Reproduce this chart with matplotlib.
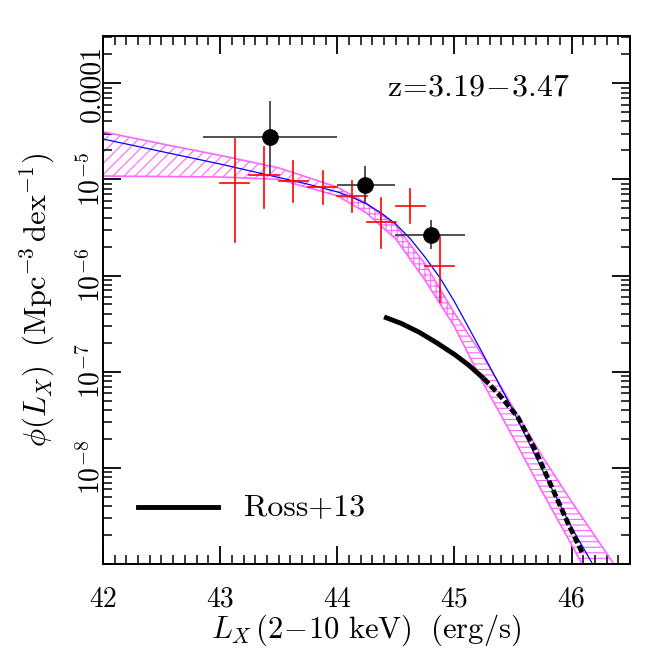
import numpy as np
import matplotlib
matplotlib.use("Agg")
import matplotlib.pyplot as plt

plt.rcParams['font.family'] = 'cmr10'
plt.rcParams['mathtext.fontset'] = 'cm'
plt.rcParams['axes.unicode_minus'] = False
plt.rcParams['hatch.linewidth'] = 0.8

# black points (log phi), with asymmetric errors
bx = [43.43, 44.24, 44.80]
bx_lo = [42.855, 43.997, 44.496]
bx_hi = [44.0, 44.493, 45.094]
by = [-4.562, -5.056, -5.577]
by_lo = [-4.945, -5.247, -5.726]
by_hi = [-4.18, -4.858, -5.424]

# red crosses
rx = [43.125, 43.375, 43.625, 43.875, 44.125, 44.375, 44.625, 44.875]
rx_half = 0.125
ry = [-5.035, -4.958, -5.015, -5.077, -5.174, -5.442, -5.278, -5.903]
ry_lo = [-5.65, -5.296, -5.233, -5.257, -5.344, -5.713, -5.458, -6.278]
ry_hi = [-4.58, -4.667, -4.806, -4.914, -5.018, -5.192, -5.104, -5.591]

# model curve (blue)
mx = [42.0, 42.5, 43.0, 43.5, 43.75, 44.0, 44.125, 44.25, 44.375, 44.5, 44.625,
      44.75, 44.875, 45.0, 45.125, 45.25, 45.5, 45.75, 46.0, 46.25]
my = [-4.58, -4.71, -4.84, -4.98, -5.05, -5.13, -5.185, -5.255, -5.35, -5.465, -5.62,
      -5.81, -6.02, -6.27, -6.55, -6.83, -7.40, -8.02, -8.62, -9.15]

# uncertainty band
gx = [42.0, 42.5, 43.0, 43.5, 44.0, 44.25, 44.5, 44.75, 45.0, 45.25,
      45.5, 45.75, 46.0, 46.25, 46.5]
g_up = [-4.505, -4.63, -4.75, -4.88, -5.08, -5.25, -5.48, -5.88, -6.39, -6.85,
        -7.37, -7.88, -8.35, -8.80, -9.25]
g_lo = [-4.965, -4.97, -4.975, -5.0, -5.17, -5.35, -5.62, -6.05, -6.53, -7.13,
        -7.68, -8.25, -8.80, -9.35, -9.9]

# Ross+13
ross_x = [44.40, 44.55, 44.70, 44.85, 45.00, 45.12, 45.25]
ross_y = [-6.43, -6.50, -6.59, -6.70, -6.82, -6.93, -7.07]
ross_dx = [45.25, 45.39, 45.54, 45.68, 45.82, 45.96, 46.09]
ross_dy = [-7.07, -7.25, -7.47, -7.79, -8.17, -8.55, -8.88]

mag = '#ff66ff'

fig = plt.figure(figsize=(6.64, 6.64), dpi=100)
ax = fig.add_axes([0.155, 0.1506, 0.794, 0.795])
ax.set_yscale('log')

gx_a = np.array(gx)
up = 10 ** np.array(g_up)
lo = 10 ** np.array(g_lo)
# hatch changes look along the band
for i0, i1, h in [(0, 4, '///'), (4, 8, '+++'), (8, 14, '---')]:
    ax.fill_between(gx_a[i0:i1 + 1], lo[i0:i1 + 1], up[i0:i1 + 1],
                    facecolor='none', edgecolor=mag, hatch=h, linewidth=0)
ax.plot(gx, up, color=mag, lw=1.2)
ax.plot(gx, lo, color=mag, lw=1.2)

ax.plot(mx, 10 ** np.array(my), color='blue', lw=0.9)

ax.plot(ross_x, 10 ** np.array(ross_y), color='black', lw=3.5, solid_capstyle='butt')
ax.plot(ross_dx, 10 ** np.array(ross_dy), color='black', lw=3.5,
        linestyle=(0, (1.5, 0.6)), dash_capstyle='butt')

# red crosses
for x, y, ylo, yhi in zip(rx, ry, ry_lo, ry_hi):
    ax.plot([x - rx_half, x + rx_half], [10 ** y, 10 ** y], color='red', lw=1.2)
    ax.plot([x, x], [10 ** ylo, 10 ** yhi], color='red', lw=1.2)

# black points
byv = 10 ** np.array(by)
yerr = [byv - 10 ** np.array(by_lo), 10 ** np.array(by_hi) - byv]
xerr = [np.array(bx) - np.array(bx_lo), np.array(bx_hi) - np.array(bx)]
ax.errorbar(bx, byv, xerr=xerr, yerr=yerr, fmt='o', ms=11, color='black',
            ecolor='#333333', elinewidth=1.2, capsize=0)

# legend
ax.plot([0.066, 0.218], [0.108, 0.108], color='black', lw=3.5, transform=ax.transAxes)
ax.text(0.268, 0.108, 'Ross+13', transform=ax.transAxes, fontsize=23, va='center')

ax.text(0.886, 0.902, r'$\mathrm{z\!=\!3.19\!-\!3.47}$', transform=ax.transAxes,
        fontsize=23, ha='right', va='center')

ax.set_xlim(42, 46.5)
ax.set_ylim(1e-9, 10 ** -3.51)
ax.set_xticks([42, 43, 44, 45, 46])
ax.set_xticklabels(['42', '43', '44', '45', '46'])
ax.set_xticks(np.arange(42, 46.51, 0.1), minor=True)
yt = [1e-9, 1e-8, 1e-7, 1e-6, 1e-5, 1e-4]
ax.set_yticks(yt)
ax.set_yticklabels(['', r'$10^{-8}$', r'$10^{-7}$', r'$10^{-6}$', r'$10^{-5}$', '0.0001'],
                   rotation=90, va='center')
ax.tick_params(which='both', direction='in', top=True, right=True, labelsize=20)
ax.tick_params(which='major', length=13, width=1.3)
ax.tick_params(axis='x', which='major', pad=16)
ax.tick_params(axis='y', which='major', pad=-2)
ax.tick_params(which='minor', length=6.5, width=1.1)
for s in ax.spines.values():
    s.set_linewidth(1.4)

ax.set_xlabel(r'$L_X\,(2\!-\!10\ \mathrm{keV})\ \ (\mathrm{erg/s})$', fontsize=22)
ax.xaxis.set_label_coords(0.5, -0.092)
ax.set_ylabel(r'$\phi(L_X)\ \ (\mathrm{Mpc^{-3}\,dex^{-1}})$', fontsize=22, va='center')
ax.yaxis.set_label_coords(-0.124, 0.5)

fig.savefig('out.png', dpi=100)
